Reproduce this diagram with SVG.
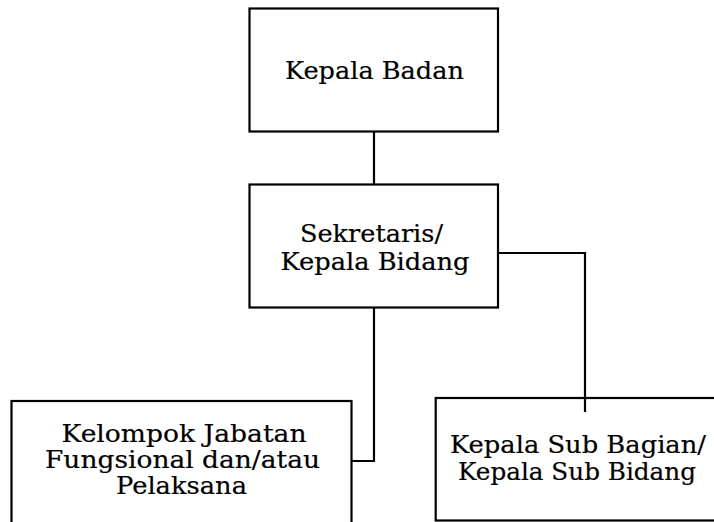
<svg xmlns="http://www.w3.org/2000/svg" width="714" height="522" viewBox="0 0 714 522">
<style>
.box{fill:#fff;stroke:#000;stroke-width:2.2}
.conn{fill:none;stroke:#000;stroke-width:2.2}
text{font-family:"DejaVu Serif","Liberation Serif",serif;font-size:24px;fill:#000;stroke:#000;stroke-width:0.2;text-anchor:middle}
</style>
<rect width="714" height="522" fill="#fff"/>
<g id="kepala-badan">
<rect class="box" x="249.5" y="8.5" width="248.5" height="123"/>
<text x="374.5" y="78.5" textLength="179" lengthAdjust="spacingAndGlyphs">Kepala Badan</text>
</g>
<g id="sekretaris">
<rect class="box" x="249.5" y="184.5" width="248.5" height="123"/>
<text x="371.5" y="242" textLength="143" lengthAdjust="spacingAndGlyphs">Sekretaris/</text>
<text x="375" y="270" textLength="189" lengthAdjust="spacingAndGlyphs">Kepala Bidang</text>
</g>
<g id="kelompok-jabatan">
<rect class="box" x="11.5" y="401" width="340" height="140"/>
<text x="184" y="442" textLength="245" lengthAdjust="spacingAndGlyphs">Kelompok Jabatan</text>
<text x="182.5" y="468" textLength="275" lengthAdjust="spacingAndGlyphs">Fungsional dan/atau</text>
<text x="181.5" y="494" textLength="131" lengthAdjust="spacingAndGlyphs">Pelaksana</text>
</g>
<g id="kepala-sub-bagian">
<rect class="box" x="435.7" y="398" width="300" height="122.5"/>
<text x="578" y="453" textLength="256" lengthAdjust="spacingAndGlyphs">Kepala Sub Bagian/</text>
<text x="577" y="480" textLength="238" lengthAdjust="spacingAndGlyphs">Kepala Sub Bidang</text>
</g>
<g id="connectors">
<path class="conn" d="M374,131.5 V184.5"/>
<path class="conn" d="M374,307.5 V461 H351.5"/>
<path class="conn" d="M498,253 H585 V412"/>
</g>
</svg>
